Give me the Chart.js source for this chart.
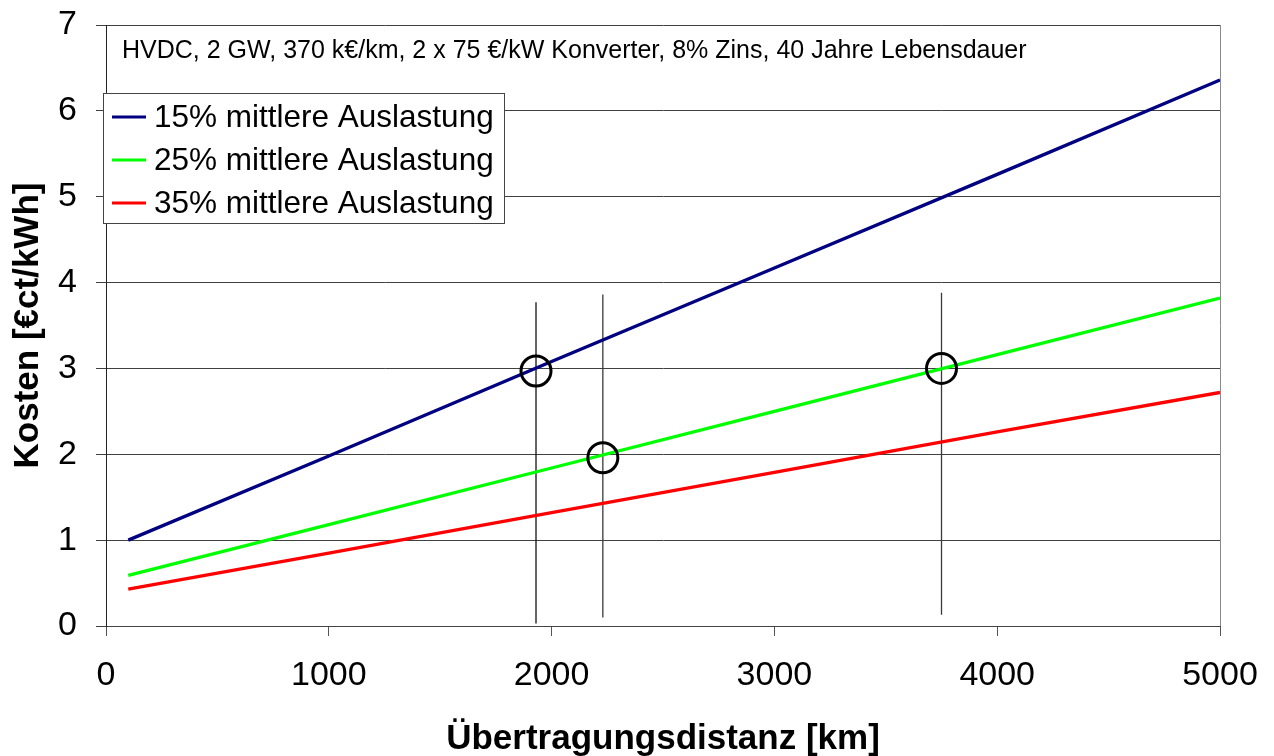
<!DOCTYPE html>
<html>
<head>
<meta charset="utf-8">
<script src="https://cdn.jsdelivr.net/npm/chart.js@4/dist/chart.umd.min.js"></script>
<style>
  html, body { margin: 0; padding: 0; background: #ffffff; }
  #wrap { width: 1274px; height: 756px; }
</style>
</head>
<body>
<div id="wrap"><canvas id="c" width="1274" height="756"></canvas></div>
<script>
// Transmission distance in km and cost in €ct/kWh for three average utilisation levels
const distances = [100, 1000, 2000, 3000, 4000, 5000];
const cost15 = [1.00, 1.98, 3.08, 4.17, 5.26, 6.36];
const cost25 = [0.59, 1.18, 1.84, 2.50, 3.16, 3.82];
const cost35 = [0.43, 0.85, 1.32, 1.79, 2.26, 2.72];

const seriesLabels = ['15% mittlere Auslastung', '25% mittlere Auslastung', '35% mittlere Auslastung'];
const seriesColors = ['#000080', '#00ff00', '#ff0000'];

// Highlighted break-even points and their vertical guide lines
const markerKm = [1930, 2230, 3750];
const markerCost = [2.97, 1.96, 3.00];
const guideTop = [3.77, 3.86, 3.88];
const guideBottom = [0.03, 0.10, 0.13];

const xTicks = [0, 1000, 2000, 3000, 4000, 5000];
const yTicks = [0, 1, 2, 3, 4, 5, 6, 7];

const noteText = 'HVDC, 2 GW, 370 k€/km, 2 x 75 €/kW Konverter, 8% Zins, 40 Jahre Lebensdauer';
const xTitle = 'Übertragungsdistanz [km]';
const yTitle = 'Kosten [€ct/kWh]';

const FONT = '"Liberation Sans", Arial, Helvetica, sans-serif';
Chart.defaults.font.family = FONT;
Chart.defaults.color = '#000000';

const toPoints = (xs, ys) => xs.map((x, i) => ({ x: x, y: ys[i] }));

const seriesSets = [cost15, cost25, cost35].map((vals, i) => ({
  label: seriesLabels[i],
  data: toPoints(distances, vals),
  borderColor: seriesColors[i],
  backgroundColor: seriesColors[i],
  borderWidth: 3.3,
  pointRadius: 0,
  tension: 0,
  inLegend: true,
  order: 2
}));

const guideSets = markerKm.map((km, i) => ({
  label: 'guide' + i,
  data: [{ x: km, y: guideBottom[i] }, { x: km, y: guideTop[i] }],
  borderColor: i === 0 ? '#111111' : '#3a3a3a',
  borderWidth: 1.3,
  pointRadius: 0,
  inLegend: false,
  order: 3
}));

const markerSet = {
  label: 'markers',
  type: 'scatter',
  data: toPoints(markerKm, markerCost),
  pointRadius: 15,
  pointBorderWidth: 3,
  pointBorderColor: '#000000',
  pointBackgroundColor: 'rgba(0,0,0,0)',
  showLine: false,
  inLegend: false,
  order: 1
};

// Legend box and parameter note drawn inside the plot
const overlayPlugin = {
  id: 'overlay',
  afterDraw(chart) {
    const ctx = chart.ctx;
    ctx.save();
    // parameter note
    ctx.font = '25px ' + FONT;
    ctx.fillStyle = '#000000';
    ctx.textAlign = 'left';
    ctx.textBaseline = 'middle';
    ctx.fillText(noteText, 122, 51);

    // legend
    const items = chart.data.datasets.filter(d => d.inLegend);
    const bx = 103.5, by = 93.5, bw = 401, bh = 130;
    ctx.fillStyle = '#ffffff';
    ctx.fillRect(bx, by, bw, bh);
    ctx.strokeStyle = '#444444';
    ctx.lineWidth = 1;
    ctx.strokeRect(bx, by, bw, bh);
    ctx.font = '31.5px ' + FONT;
    items.forEach((d, i) => {
      const y = 117 + i * 43;
      ctx.strokeStyle = d.borderColor;
      ctx.lineWidth = 3;
      ctx.beginPath();
      ctx.moveTo(112, y);
      ctx.lineTo(146, y);
      ctx.stroke();
      ctx.fillStyle = '#000000';
      ctx.fillText(d.label, 154, y + 1);
    });
    ctx.restore();
  }
};

new Chart(document.getElementById('c'), {
  type: 'line',
  data: { datasets: [...seriesSets, ...guideSets, markerSet] },
  options: {
    responsive: false,
    animation: false,
    devicePixelRatio: 1,
    layout: { padding: { left: 0, right: 54, top: 25, bottom: 0 } },
    plugins: {
      legend: { display: false },
      tooltip: { enabled: false }
    },
    scales: {
      x: {
        type: 'linear',
        min: 0,
        max: 5000,
        afterBuildTicks: s => { s.ticks = xTicks.map(v => ({ value: v })); },
        afterFit: s => { s.height = 130; s.paddingLeft = 0; s.paddingRight = 0; },
        ticks: { font: { size: 34 }, padding: 19, maxRotation: 0, autoSkip: false, callback: v => String(v) },
        grid: {
          drawOnChartArea: true,
          color: c => (c.tick && c.tick.value === 5000) ? '#8a8a8a' : 'rgba(0,0,0,0)',
          tickColor: '#555555',
          tickLength: 10,
          lineWidth: 1
        },
        border: { color: '#444444', width: 1 },
        title: {
          display: true,
          text: xTitle,
          font: { size: 35, weight: 'bold' },
          padding: { top: 0, bottom: -4 }
        }
      },
      y: {
        type: 'linear',
        min: 0,
        max: 7,
        afterBuildTicks: s => { s.ticks = yTicks.map(v => ({ value: v })); },
        afterFit: s => { s.width = 106; s.paddingTop = 0; s.paddingBottom = 0; },
        ticks: { font: { size: 34 }, padding: 19, callback: v => String(v) },
        grid: {
          color: '#404040',
          tickColor: '#404040',
          tickLength: 10,
          lineWidth: 1
        },
        border: { color: '#222222', width: 1 },
        title: {
          display: true,
          text: yTitle,
          font: { size: 35, weight: 'bold' },
          padding: { top: 7, bottom: 0 }
        }
      }
    }
  },
  plugins: [overlayPlugin]
});
</script>
</body>
</html>
